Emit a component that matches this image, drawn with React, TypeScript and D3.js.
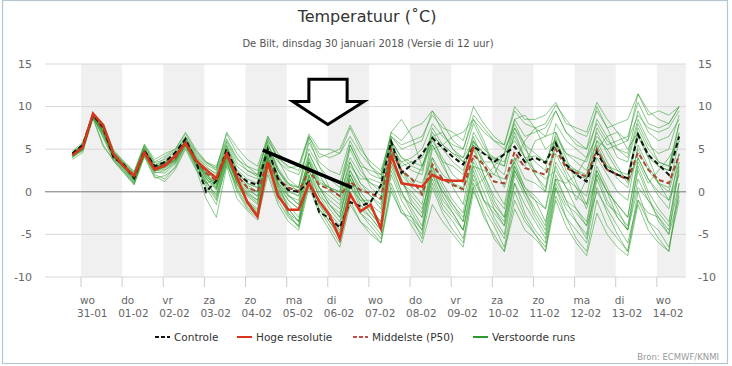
import React from 'react'
import * as d3 from 'd3'

const W = 732
const H = 366

// tijdstappen: elke 6 uur vanaf 30-01 18 UTC, tijden hier in lokale tijd (UTC+1)
const firstStep = Date.UTC(2018, 0, 30, 19)
const stepMs = 6 * 3600 * 1000

const tickDays = ['wo', 'do', 'vr', 'za', 'zo', 'ma', 'di', 'wo', 'do', 'vr', 'za', 'zo', 'ma', 'di', 'wo']
const tickDates = ['31-01', '01-02', '02-02', '03-02', '04-02', '05-02', '06-02', '07-02', '08-02', '09-02', '10-02', '11-02', '12-02', '13-02', '14-02']
const yTicks = [15, 10, 5, 0, -5, -10]

// hoge resolutie (tot +240h)
const hres = [4.3, 5.2, 9.2, 7.8, 4.4, 3.0, 1.9, 4.6, 2.6, 3.1, 4.2, 5.7, 3.7, 2.6, 1.6, 4.5, 1.7,
  -1.2, -2.9, 3.5, -0.5, -2.1, -2.1, 1.0, -1.1, -2.7, -5.5, -0.3, -2.3, -1.5, -4.3, 4.3, 1.0,
  0.8, 0.6, 2.0, 1.4, 1.3, 1.3, 5.3]

const control = [4.5, 5.5, 9.0, 7.6, 4.0, 3.2, 1.6, 4.8, 3.0, 3.5, 4.6, 6.2, 3.6, 0.0, 1.3, 5.0, 2.2,
  1.2, 0.8, 5.0, 1.5, 0.2, 0.0, 1.2, -2.4, -3.1, -4.2, -1.2, -1.7, -1.2, 0.8, 5.9, 2.2,
  3.2, 4.4, 6.3, 5.2, 4.1, 3.2, 5.3, 4.5, 3.5, 4.4, 5.3, 3.5, 4.0, 3.4, 5.7, 3.2,
  2.0, 1.2, 4.6, 2.6, 2.0, 1.6, 6.7, 4.3, 3.2, 2.0, 6.5]

const median = [4.4, 5.3, 9.0, 7.3, 4.2, 3.0, 1.7, 4.8, 2.8, 3.2, 3.9, 5.8, 3.8, 2.2, 1.3, 4.6, 2.0,
  0.5, 0.0, 3.5, 1.5, 0.5, 0.0, 2.5, 0.8, 0.3, -0.5, 1.2, 0.2, -0.2, -0.8, 5.0, 2.5,
  1.5, -0.3, 3.2, 1.5, 0.8, 0.3, 4.3, 3.2, 1.2, 1.0, 4.7, 2.8, 2.4, 2.0, 5.0, 2.8,
  2.2, 1.8, 5.0, 2.6, 2.0, 1.4, 4.6, 2.6, 1.4, 1.0, 4.3]

// verstoorde runs
const run01 = [4.2, 5.4, 9.0, 7.5, 4.0, 3.2, 1.8, 5.0, 3.0, 3.4, 4.4, 6.0, 3.5, 1.0, 1.5, 5.2, 2.5, 1.0, 0.5, 5.0, 2.5, 0.5, 0.2, 2.5, 0.0, -2.0, -3.5, 0.5, -1.0, -1.0, 0.5, 6.0, 3.0, 3.5, 4.0, 6.5, 5.5, 4.5, 3.5, 5.8, 4.5, 3.8, 4.5, 6.0, 4.0, 4.2, 3.5, 6.2, 3.5, 2.5, 1.5, 5.0, 3.0, 2.5, 2.0, 7.0, 4.5, 3.0, 2.5, 6.8]
const run02 = [4.6, 5.0, 8.8, 6.8, 4.3, 2.8, 1.4, 4.5, 2.4, 2.8, 3.6, 5.6, 3.4, 2.2, 0.4, 4.0, 1.0, -1.0, -2.5, 3.0, 0.0, -2.5, -3.5, 1.5, -1.5, -3.0, -4.5, 0.0, -2.5, -3.5, -5.0, 2.0, -1.0, -3.0, -5.5, 0.5, -2.5, -4.5, -6.0, 1.0, -2.0, -4.0, -6.5, 0.0, -3.0, -5.0, -7.0, 0.5, -3.0, -5.5, -7.0, -1.0, -4.0, -5.5, -7.0, 0.0, -3.5, -5.5, -7.0, 1.0]
const run03 = [4.0, 5.6, 9.2, 8.0, 4.8, 3.4, 2.0, 5.4, 3.4, 3.8, 4.6, 6.4, 4.4, 3.2, 2.5, 6.0, 3.8, 3.0, 2.5, 6.0, 4.0, 2.8, 3.0, 6.5, 4.5, 4.0, 4.5, 7.5, 5.0, 3.5, 2.5, 6.5, 5.5, 6.0, 6.5, 9.0, 7.5, 7.0, 6.0, 10.0, 8.0, 6.5, 5.5, 9.5, 8.0, 7.5, 8.0, 10.2, 8.5, 7.0, 6.5, 9.5, 7.5, 8.0, 8.5, 11.5, 9.5, 8.5, 8.0, 10.0]
const run04 = [4.5, 5.2, 9.0, 7.0, 4.0, 2.9, 1.5, 4.7, 2.7, 3.0, 3.8, 5.8, 3.6, 1.8, 0.8, 4.4, 1.5, 0.2, -0.5, 4.5, 1.5, -0.5, -1.0, 3.0, 0.5, -0.5, -1.5, 2.5, 0.0, -1.5, -2.5, 5.0, 2.0, 0.5, 3.0, 6.5, 7.0, 5.0, 3.5, 5.5, 2.0, -0.5, -2.0, 3.0, 0.5, -1.0, -3.5, 1.5, 1.0, 2.0, 4.0, 6.5, 5.0, 3.0, 1.0, 4.0, 1.5, 0.0, -1.0, 3.5]
const run05 = [4.3, 5.0, 8.6, 5.3, 3.8, 2.4, 1.0, 4.5, 2.0, 1.5, 3.0, 5.5, 3.0, 0.5, -1.5, 3.5, 0.0, -2.0, -3.0, 2.5, -1.0, -3.0, -4.0, 2.0, -1.5, -3.5, -5.5, 1.0, -2.0, -3.0, -4.5, 3.5, 0.0, -2.0, -4.0, 3.0, -0.5, -2.5, -4.5, 2.5, -1.0, -3.5, -5.5, 1.0, -2.5, -4.5, -6.0, 0.5, -2.0, -3.5, -5.0, 2.0, -1.0, -3.0, -4.5, 3.0, 0.0, -2.0, -3.5, 2.5]
const run06 = [4.8, 5.8, 9.1, 7.6, 4.6, 3.3, 2.2, 5.2, 3.2, 3.5, 4.3, 6.0, 4.2, 3.0, 2.0, 5.5, 3.0, 2.0, 1.5, 5.5, 3.5, 2.5, 2.0, 5.0, 3.0, 1.5, 0.5, 4.0, 2.0, 1.0, 0.0, 4.5, 3.5, 4.0, 5.0, 8.0, 6.5, 5.5, 5.0, 8.5, 7.0, 6.0, 5.0, 7.5, 5.5, 4.5, 3.5, 6.5, 4.5, 3.5, 2.5, 6.0, 5.0, 5.5, 6.0, 9.0, 7.5, 7.0, 7.5, 9.5]
const run07 = [4.1, 4.8, 8.8, 6.5, 4.1, 2.7, 1.2, 4.3, 2.2, 2.5, 3.4, 5.4, 3.2, 1.2, -0.5, 3.8, 0.5, -1.5, -2.5, 3.5, 0.5, -1.5, -3.0, 2.0, -0.5, -2.5, -4.0, 1.5, -1.0, -2.5, -4.0, 4.0, 1.0, -0.5, -2.0, 2.0, -1.0, -2.5, -4.5, 0.5, 1.5, 3.0, 4.5, 8.0, 5.5, 2.0, 0.0, 5.5, 3.0, 2.0, 1.5, 6.0, 3.5, 1.5, 0.5, 5.0, 2.5, 1.0, 0.0, 4.5]
const run08 = [4.6, 5.4, 9.0, 7.2, 4.2, 3.0, 1.7, 4.9, 2.9, 3.1, 3.7, 5.7, 3.5, 1.5, 0.2, 4.2, 1.2, -0.5, -1.5, 3.8, 0.5, -2.0, -3.5, 1.0, -2.0, -4.0, -6.0, -1.0, -3.5, -4.5, -6.0, 1.0, -2.0, -4.0, -6.0, -1.5, -3.5, -5.0, -6.5, 0.0, -2.5, -5.5, -7.0, -2.0, -4.5, -5.5, -7.0, -1.0, -4.0, -6.0, -7.5, -2.5, -5.0, -6.5, -7.5, -1.5, -4.5, -6.0, -7.0, 0.0]
const run09 = [4.2, 5.1, 9.1, 7.9, 4.4, 3.1, 2.0, 5.0, 3.0, 4.0, 4.8, 6.5, 4.6, 3.4, 2.8, 6.8, 4.5, 3.0, 2.0, 6.5, 4.0, 3.0, 2.5, 6.5, 4.0, 4.5, 5.0, 7.8, 5.5, 3.0, 1.5, 7.0, 8.5, 6.5, 3.0, 5.5, 3.0, 1.0, 0.0, 6.0, 4.5, 4.0, 3.0, 7.5, 5.0, 3.5, 2.5, 8.0, 6.0, 5.0, 4.0, 8.5, 6.5, 4.0, 3.5, 8.0, 5.5, 4.5, 5.0, 9.0]
const run10 = [4.4, 5.3, 8.9, 7.0, 4.1, 2.6, 1.3, 4.6, 2.5, 2.6, 3.5, 5.9, 3.3, 0.8, -1.0, 3.2, 0.8, -1.0, -2.0, 4.2, 1.0, -2.0, -3.5, 3.5, 0.5, -1.5, -3.0, 2.0, -0.5, -2.0, -3.5, 5.5, 2.5, 1.0, 0.0, 6.5, 3.5, 0.5, -1.5, 5.0, 2.0, -1.0, -3.0, 3.0, 0.0, -2.5, -4.5, 2.0, -1.0, -3.5, -5.5, 1.5, -1.5, -2.5, -4.0, 2.5, -0.5, -3.5, -5.0, 3.0]
const run11 = [4.7, 5.5, 9.2, 7.4, 4.5, 3.2, 1.9, 4.9, 2.8, 3.6, 4.0, 6.2, 4.0, 2.4, 1.2, 4.9, 2.0, 0.5, 0.0, 5.8, 2.5, 0.8, 0.5, 6.3, 3.0, 0.5, -0.5, 3.5, 1.0, 0.0, -1.0, 5.5, 3.5, 2.5, 2.0, 7.0, 5.0, 3.5, 2.5, 6.5, 3.5, 2.0, 4.5, 8.5, 9.0, 7.5, 5.0, 6.0, 2.5, 0.5, -2.0, 2.0, 0.0, -1.5, -3.0, 3.5, 1.0, 2.5, 4.0, 6.0]
const run12 = [3.8, 4.6, 8.7, 5.5, 3.6, 2.2, 0.8, 4.2, 1.8, 1.2, 2.6, 5.0, 2.6, 1.0, -0.3, 4.0, 1.2, 0.0, -1.0, 4.0, 1.2, -1.0, -2.0, 3.5, 1.0, 0.5, 0.0, 5.0, 2.5, 1.0, 0.5, 4.0, 1.5, -1.5, -3.0, 1.5, -1.5, -3.0, -4.5, 1.5, -1.0, -2.0, -3.5, 2.5, 0.0, -1.0, -2.0, 3.0, 0.5, -0.5, -1.5, 4.0, 2.0, 0.0, -1.0, 5.5, 3.0, 1.0, 0.5, 6.0]
const run13 = [4.5, 5.6, 9.1, 7.8, 4.6, 3.5, 2.3, 5.5, 3.5, 4.2, 5.0, 6.8, 4.8, 3.5, 3.0, 6.2, 4.0, 2.5, 2.0, 6.2, 3.8, 1.5, 0.5, 4.5, 2.0, 0.0, -1.0, 3.0, 1.5, 1.5, 1.0, 6.0, 4.0, 3.0, 2.5, 7.5, 5.5, 4.5, 4.0, 6.0, 3.0, 0.5, -1.5, 4.0, 3.0, 6.0, 6.5, 9.5, 7.0, 5.5, 5.0, 8.0, 6.0, 5.0, 4.5, 9.5, 7.0, 6.0, 6.5, 8.5]
const run14 = [4.3, 5.1, 8.9, 7.1, 4.3, 2.9, 1.6, 4.7, 2.6, 3.0, 3.9, 5.8, 3.7, 2.0, 0.9, 4.5, 1.4, -0.2, -1.0, 4.0, 0.8, -1.0, -2.0, 2.5, -0.5, -1.5, -2.5, 2.0, -0.5, -2.0, -3.5, 3.0, 0.0, -2.5, -4.5, 1.0, -2.0, -3.5, -5.5, 0.5, -3.0, -5.0, -7.0, -1.0, -3.5, -5.0, -6.5, -0.5, -3.0, -4.5, -6.0, 0.5, -2.5, -5.0, -7.0, -1.0, -3.5, -4.5, -6.5, -1.0]
const run15 = [4.6, 5.3, 9.0, 7.6, 4.3, 3.1, 1.8, 4.8, 2.9, 3.3, 4.1, 6.1, 3.9, 2.6, 1.8, 5.4, 2.6, 1.5, 1.0, 5.5, 2.8, 1.0, 0.5, 5.8, 3.5, 2.5, 2.0, 6.0, 3.5, 2.0, 1.5, 6.5, 5.0, 5.5, 6.0, 9.5, 7.0, 5.0, 4.0, 8.0, 5.5, 3.0, 2.0, 7.0, 4.0, 2.0, 0.5, 6.0, 3.0, 2.5, 2.0, 7.5, 5.5, 6.0, 6.5, 10.5, 8.0, 7.5, 8.0, 10.0]
const run16 = [4.0, 4.9, 8.7, 6.6, 3.9, 2.5, 1.1, 4.4, 2.3, 2.2, 3.3, 5.5, 3.1, 1.3, -0.8, 3.6, 0.3, -1.8, -2.8, 3.0, -0.2, -2.8, -4.0, 1.8, -1.2, -3.0, -4.8, 1.5, -1.5, -3.0, -4.5, 2.5, -0.5, -1.5, -3.0, 4.0, 1.0, -1.0, -2.5, 4.0, 1.5, -1.5, -3.0, 3.5, 0.5, -0.5, -2.0, 4.5, 2.0, -1.0, 1.5, 5.0, 6.5, 7.0, 5.0, 7.0, 4.0, 1.0, -1.0, 2.0]
const run17 = [4.5, 5.4, 9.0, 7.3, 4.4, 3.0, 1.7, 4.8, 2.7, 3.4, 4.2, 6.0, 3.8, 2.3, 1.4, 5.0, 2.2, 1.0, 0.5, 5.0, 2.0, 0.0, -0.5, 4.0, 1.5, 0.5, 0.0, 5.5, 3.0, 2.5, 2.0, 6.0, 4.0, 3.5, 3.0, 6.0, 4.0, 2.0, 1.0, 5.5, 3.5, 3.5, 3.0, 8.5, 6.5, 7.0, 7.5, 9.5, 7.0, 6.0, 5.0, 10.0, 7.5, 5.0, 4.0, 8.5, 6.0, 3.5, 3.0, 7.0]
const run18 = [4.2, 5.0, 8.8, 6.8, 4.0, 2.8, 1.5, 4.6, 2.5, 2.9, 3.7, 5.6, 3.5, 1.6, 0.5, 4.3, 1.0, -1.2, -2.2, 3.2, 0.2, -2.5, -4.2, 1.0, -2.0, -3.5, -5.0, 0.0, -2.5, -4.0, -5.5, 0.5, -2.5, -3.5, -5.0, 2.0, 0.0, -1.5, -3.5, 3.5, 1.0, -2.0, -4.0, 2.5, 0.0, -2.0, -4.0, 3.5, 1.5, 0.5, -0.5, 5.5, 3.0, 2.0, 1.5, 6.5, 4.0, 3.0, 2.5, 8.0]
const run19 = [4.4, 5.2, 9.0, 7.4, 4.2, 3.1, 1.8, 4.9, 2.9, 3.2, 4.0, 6.0, 3.9, 2.1, 1.0, 4.6, 1.9, 0.8, 0.0, 4.8, 1.8, 0.2, -0.5, 3.0, 0.5, -1.0, -2.0, 2.5, 0.5, -0.5, -1.5, 4.5, 2.5, 1.5, 1.0, 4.0, 2.0, 1.0, 0.5, 3.0, 2.5, 2.0, 1.5, 3.5, 6.0, 7.5, 6.5, 7.0, 4.0, 1.0, -1.5, 3.0, 0.5, -2.0, -4.5, 0.5, -1.0, -3.0, -5.0, -0.5]
const run20 = [4.6, 5.6, 9.2, 7.7, 4.7, 3.3, 2.1, 5.2, 3.1, 3.0, 4.4, 6.3, 4.1, 2.8, 2.2, 5.8, 3.4, 2.5, 1.8, 5.2, 2.5, 1.0, 0.0, 3.5, 0.5, -1.5, -3.0, 2.0, -0.5, -2.5, -4.0, 3.5, 1.0, 0.0, -1.5, 5.0, 5.5, 6.5, 7.0, 8.5, 6.0, 3.0, 0.5, 4.0, 1.5, 1.0, 0.0, 7.0, 4.5, 4.0, 3.5, 7.0, 4.5, 2.5, 1.5, 7.5, 5.0, 3.5, 3.0, 8.0]
const run21 = [4.2, 4.9, 8.8, 6.3, 3.7, 2.3, 0.9, 4.1, 1.6, 1.9, 2.8, 5.2, 2.8, -0.8, -3.0, 3.0, -0.8, -2.2, -3.3, 2.0, -1.5, -3.5, -4.5, 0.5, -2.5, -4.5, -6.5, -1.5, -3.5, -5.0, -6.0, 0.0, -2.5, -3.0, -4.5, 2.5, 0.0, -2.0, -3.5, 3.0, 0.0, -3.0, -5.0, 2.0, -0.5, -3.0, -5.0, 1.5, -1.0, -2.0, -3.5, 2.5, 0.0, -1.5, -3.0, 4.0, 1.5, -0.5, -2.0, 4.5]
const run22 = [4.4, 5.5, 9.1, 8.0, 4.9, 3.6, 2.4, 5.6, 3.8, 4.5, 5.0, 7.0, 5.0, 3.5, 2.6, 7.0, 5.2, 3.8, 3.0, 6.5, 4.5, 3.5, 3.0, 6.8, 5.0, 5.0, 4.5, 6.5, 4.5, 3.0, 2.0, 7.0, 6.0, 7.5, 8.0, 9.5, 8.0, 6.0, 5.0, 9.0, 7.5, 6.0, 5.5, 10.0, 8.5, 8.5, 9.0, 10.5, 8.0, 7.5, 7.0, 10.5, 8.5, 7.0, 6.0, 11.5, 9.0, 9.5, 9.0, 10.0]
const run23 = [4.5, 5.3, 9.0, 7.2, 4.3, 3.0, 1.6, 4.8, 2.7, 3.3, 4.0, 5.9, 3.8, 1.9, 0.6, 4.6, 1.6, 0.4, -0.5, 4.5, 1.8, -0.3, -1.5, 3.8, 1.2, 0.5, -0.5, 3.5, 1.0, -0.5, -2.0, 4.5, 1.5, -1.0, -2.5, 3.0, 0.5, -1.5, -3.0, 2.0, -1.0, -2.5, -4.0, 1.0, -1.5, -3.5, -5.5, 1.0, -1.5, -2.5, -4.0, 2.5, 0.0, -3.0, -4.5, 1.5, -1.0, -2.5, -4.0, 3.5]
const run24 = [4.3, 5.1, 8.9, 7.0, 4.2, 2.9, 1.4, 4.6, 2.6, 2.9, 3.8, 5.7, 3.6, 1.7, 0.3, 4.1, 1.2, -0.3, -1.3, 4.0, 1.0, -0.5, -1.5, 4.5, 2.0, 1.5, 1.0, 5.5, 3.0, 0.5, -0.5, 5.0, 2.5, 0.5, -0.5, 5.5, 3.5, 3.0, 2.0, 7.0, 5.0, 4.0, 3.5, 6.5, 4.0, 2.5, 1.5, 2.5, 0.5, -2.0, -4.0, 0.0, -2.0, -4.0, -6.0, -1.0, -2.5, -3.0, -4.5, 1.0]
const runs = [run01, run02, run03, run04, run05, run06, run07, run08, run09, run10, run11, run12,
  run13, run14, run15, run16, run17, run18, run19, run20, run21, run22, run23, run24]

// aantekeningen op de grafiek (dag na 31-01 00u, temperatuur)
const trendLine = [[4.42, 4.9], [6.59, 0.5]]
const arrowShape = [[5.54, 13.2], [6.47, 13.2], [6.47, 10.6], [6.88, 10.6], [6.0, 7.9], [5.15, 10.6], [5.54, 10.6]]

const legendItems = [
  { label: 'Controle', color: '#111', dash: '4,2', x: 155 },
  { label: 'Hoge resolutie', color: '#d9341c', dash: '', x: 237 },
  { label: 'Middelste (P50)', color: '#c0504d', dash: '4,2', x: 353 },
  { label: 'Verstoorde runs', color: '#2e9a2e', dash: '', x: 473 },
]

export default function App() {
  const left = 45
  const right = 686
  const top = 64
  const bottom = 277

  const day0 = Date.UTC(2018, 0, 31)
  const dayMs = 24 * 3600 * 1000

  const x = d3.scaleUtc()
    .domain([new Date(Date.UTC(2018, 0, 30, 3)), new Date(Date.UTC(2018, 1, 14, 17))])
    .range([left, right])
  const y = d3.scaleLinear().domain([-10, 15]).range([bottom, top])

  const t = (i: number) => new Date(firstStep + i * stepMs)
  const line = d3.line<number>()
    .x((d, i) => x(t(i)))
    .y(d => y(d))

  const ticks = tickDates.map((_, i) => new Date(Date.UTC(2018, 0, 31 + i)))
  const dx = (d: number) => x(new Date(day0 + d * dayMs))

  const arrowPts = arrowShape.map(p => [dx(p[0]), y(p[1])].join(',')).join(' ')

  return (
    <div style={{ position: 'absolute', left: 0, top: 0 }}>
      <svg width={W} height={H} style={{ fontFamily: 'DejaVu Sans, sans-serif', display: 'block' }}>
        <rect x={0} y={0} width={W} height={H} fill="#fff" />
        <rect x={2.5} y={0.5} width={725} height={363} fill="none" stroke="#b3c6d4" strokeWidth={1.2} />

        <text x={367} y={22} textAnchor="middle" fontSize={16} fill="#333">Temperatuur (˚C)</text>
        <text x={368} y={47} textAnchor="middle" fontSize={10} fill="#555">De Bilt, dinsdag 30 januari 2018 (Versie di 12 uur)</text>

        {ticks.map((d, i) => i % 2 === 0 ? (
          <rect key={'b' + i} x={x(d)} y={top}
            width={Math.min(right, x(new Date(+d + dayMs))) - x(d)} height={bottom - top} fill="#f0f0f0" />
        ) : null)}

        {yTicks.map(v => (
          <g key={'y' + v}>
            <line x1={left} x2={right} y1={y(v)} y2={y(v)} stroke={v === 0 ? '#777' : '#d8d8d8'} strokeWidth={1} />
            <text x={32} y={y(v)} dy="0.35em" textAnchor="end" fontSize={11} fill="#666">{v}</text>
            <text x={698} y={y(v)} dy="0.35em" textAnchor="start" fontSize={11} fill="#666">{v}</text>
          </g>
        ))}

        {ticks.map((d, i) => (
          <g key={'x' + i}>
            <line x1={x(d)} x2={x(d)} y1={bottom} y2={bottom + 10} stroke="#ccc" />
            <text x={x(d) - 1} y={304} fontSize={10.5} fill="#666">{tickDays[i]}</text>
            <text x={x(d) - 4} y={317} fontSize={10.5} fill="#666">{tickDates[i]}</text>
          </g>
        ))}

        <g fill="none">
          {runs.map((r, i) => (
            <path key={'r' + i} d={line(r) || ''} stroke="#2e9a2e" strokeOpacity={0.55} strokeWidth={1} />
          ))}
          <path d={line(median) || ''} stroke="#a84a32" strokeWidth={2} strokeDasharray="5,3" />
          <path d={line(control) || ''} stroke="#111" strokeWidth={2} strokeDasharray="5,3" />
          <path d={line(hres) || ''} stroke="#d9341c" strokeWidth={2.5} />
        </g>

        <line x1={dx(trendLine[0][0])} y1={y(trendLine[0][1])} x2={dx(trendLine[1][0])} y2={y(trendLine[1][1])}
          stroke="#000" strokeWidth={3.5} />
        <polygon points={arrowPts} fill="#fff" stroke="#000" strokeWidth={3} strokeLinejoin="miter" />

        {legendItems.map(it => (
          <g key={it.label}>
            <line x1={it.x} x2={it.x + 15} y1={337} y2={337} stroke={it.color} strokeWidth={2} strokeDasharray={it.dash} />
            <text x={it.x + 19} y={340.5} fontSize={10.5} fill="#333">{it.label}</text>
          </g>
        ))}

        <text x={719} y={360} textAnchor="end" fontSize={8.5} fill="#999">Bron: ECMWF/KNMI</text>
      </svg>
    </div>
  )
}
